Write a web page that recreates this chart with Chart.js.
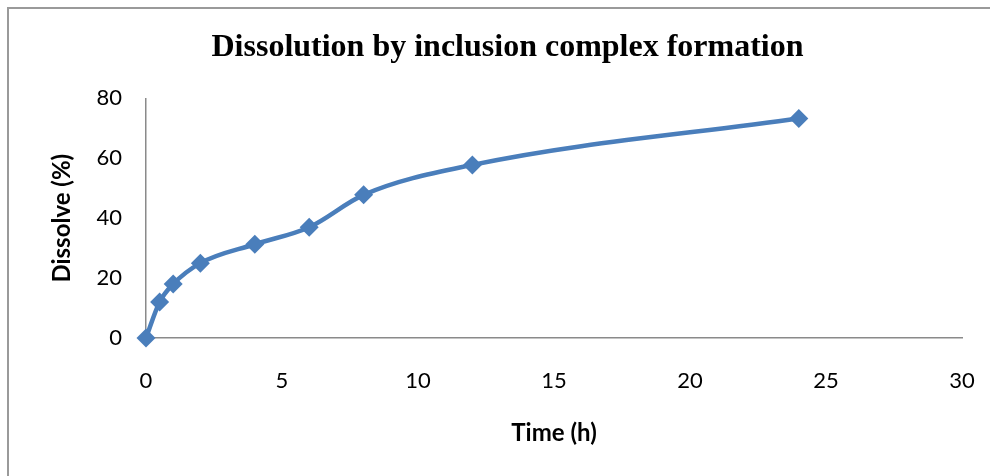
<!DOCTYPE html>
<html>
<head>
<meta charset="utf-8">
<script src="https://cdn.jsdelivr.net/npm/chart.js@4"></script>
<style>
  html, body { margin: 0; padding: 0; background: #ffffff; }
  #wrap { position: relative; width: 990px; height: 476px; }
</style>
</head>
<body>
<div id="wrap"><canvas id="chart" width="990" height="476"></canvas></div>
<script>
// Sampling times (h) and cumulative drug dissolved (%)
const timeHours = [0, 0.5, 1, 2, 4, 6, 8, 12, 24];
const dissolvedPct = [0, 12, 18, 25, 31.3, 37, 47.8, 57.8, 73.3];
const xTicks = [0, 5, 10, 15, 20, 25, 30];
const yTicks = [0, 20, 40, 60, 80];

const points = timeHours.map((t, i) => ({ x: t, y: dissolvedPct[i] }));

const AXIS_GREY = '#8a8a8a';
const LINE_BLUE = '#4a7ebb';
const SANS = 'Lato, "Open Sans", sans-serif';
const TICK_FONT = { family: SANS, size: 22 };
const AXIS_TITLE_FONT = { family: SANS, size: 24, weight: 'bold' };

// Frame around the chart (open at right and bottom edges)
const framePlugin = {
  id: 'frame',
  beforeDraw(chart) {
    const ctx = chart.ctx;
    ctx.save();
    ctx.strokeStyle = '#9a9a9a';
    ctx.lineWidth = 2;
    ctx.beginPath();
    ctx.moveTo(8, chart.height + 5);
    ctx.lineTo(8, 8);
    ctx.lineTo(chart.width + 5, 8);
    ctx.stroke();
    ctx.restore();
  }
};

new Chart(document.getElementById('chart'), {
  type: 'scatter',
  data: {
    datasets: [{
      label: 'Dissolve (%)',
      data: points,
      showLine: true,
      borderColor: LINE_BLUE,
      backgroundColor: LINE_BLUE,
      borderWidth: 4.5,
      cubicInterpolationMode: 'monotone',
      pointStyle: 'rectRot',
      pointRadius: 9.5,
      pointHoverRadius: 9.5,
      pointBorderWidth: 0,
      clip: false
    }]
  },
  options: {
    responsive: false,
    animation: false,
    layout: { padding: { left: 39, right: 14, top: 0, bottom: 0 } },
    plugins: {
      legend: { display: false },
      tooltip: { enabled: false },
      title: {
        display: true,
        text: 'Dissolution by inclusion complex formation',
        color: '#000000',
        font: { family: '"Liberation Serif", "Times New Roman", serif', size: 32, weight: 'bold' },
        padding: { top: 29, bottom: 31 }
      }
    },
    scales: {
      x: {
        type: 'linear',
        min: 0,
        max: 30,
        afterBuildTicks(scale) { scale.ticks = xTicks.map(v => ({ value: v })); },
        afterFit(scale) {
          scale.height = 138;
          scale.paddingLeft = 0;
          scale.paddingRight = 28;
        },
        grid: { display: false, drawTicks: false },
        border: { display: true, color: AXIS_GREY, width: 1.5 },
        ticks: { color: '#000000', font: TICK_FONT, padding: 30, maxRotation: 0 },
        title: {
          display: true,
          text: 'Time (h)',
          color: '#000000',
          font: AXIS_TITLE_FONT,
          padding: { top: 0, bottom: 28 }
        }
      },
      y: {
        type: 'linear',
        min: 0,
        max: 80,
        afterBuildTicks(scale) { scale.ticks = yTicks.map(v => ({ value: v })); },
        afterFit(scale) { scale.width = 107; },
        grid: { display: false, drawTicks: false },
        border: { display: true, color: AXIS_GREY, width: 1.5 },
        ticks: { color: '#000000', font: TICK_FONT, padding: 24 },
        title: {
          display: true,
          text: 'Dissolve (%)',
          color: '#000000',
          font: AXIS_TITLE_FONT,
          padding: { top: 9, bottom: 0 }
        }
      }
    }
  },
  plugins: [framePlugin]
});
</script>
</body>
</html>
